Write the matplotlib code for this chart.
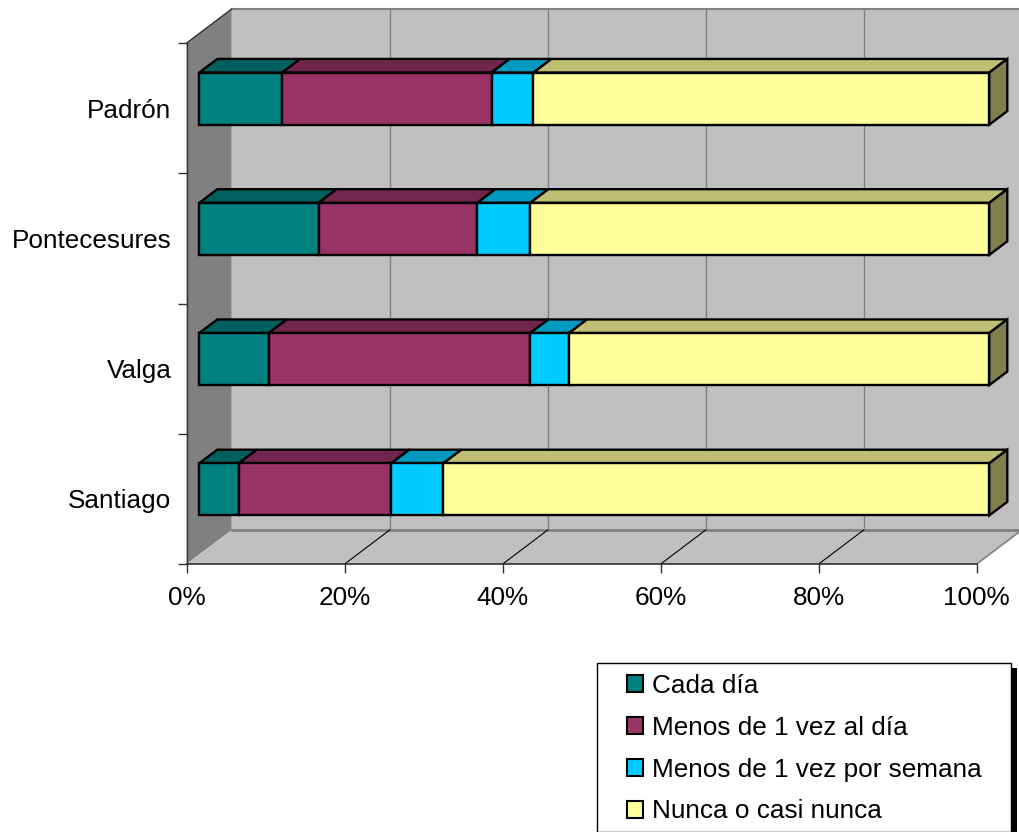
import numpy as np
import matplotlib.pyplot as plt
from matplotlib.patches import Polygon, Rectangle, Patch

plt.rcParams['font.family'] = ['Liberation Sans', 'DejaVu Sans']

# categories from bottom to top
categories = ['Santiago', 'Valga', 'Pontecesures', 'Padrón']
series = ['Cada día', 'Menos de 1 vez al día',
          'Menos de 1 vez por semana', 'Nunca o casi nunca']
# percentages per series, same order as categories
cada_dia = [5.0, 8.8, 15.1, 10.5]
menos_dia = [19.3, 33.1, 20.1, 26.5]
menos_semana = [6.6, 4.9, 6.7, 5.3]
nunca = [69.1, 53.2, 58.1, 57.7]
xticks = [0, 20, 40, 60, 80, 100]
xticklabels = ['0%', '20%', '40%', '60%', '80%', '100%']

colors = ['#008080', '#993366', '#00CCFF', '#FFFF99']

def shade(c, f):
    r, g, b = [int(c[i:i + 2], 16) for i in (1, 3, 5)]
    return (r * f / 255, g * f / 255, b * f / 255)

W, H = 1020, 832
fig = plt.figure(figsize=(W / 100, H / 100), dpi=100)
# axes = front plane of the 3D box
ax = fig.add_axes([186.7 / W, (H - 564) / H, 790 / W, 521 / H])
ax.set_xlim(0, 100)
ax.set_ylim(-0.5, 3.5)

# depth of the box in data units
Dx = 45 / 7.9
Dy = 34 / 130.25
f0, f1 = 0.28, 0.68
hh = 0.2

# walls and floor
back = Polygon([(Dx, -0.5 + Dy), (100 + Dx, -0.5 + Dy), (100 + Dx, 3.5 + Dy), (Dx, 3.5 + Dy)],
               closed=True, fc='#C0C0C0', ec='none', clip_on=False, zorder=0)
left = Polygon([(0, -0.5), (Dx, -0.5 + Dy), (Dx, 3.5 + Dy), (0, 3.5)],
               closed=True, fc='#808080', ec='none', clip_on=False, zorder=0)
floor = Polygon([(0, -0.5), (100, -0.5), (100 + Dx, -0.5 + Dy), (Dx, -0.5 + Dy)],
                closed=True, fc='#C0C0C0', ec='none', clip_on=False, zorder=0)
for p in (back, left, floor):
    ax.add_patch(p)

# wall edges
ax.plot([Dx, 100 + Dx], [3.5 + Dy, 3.5 + Dy], color='#808080', lw=1.5, clip_on=False, zorder=1)
ax.plot([0, Dx], [3.5, 3.5 + Dy], color='#303030', lw=1, clip_on=False, zorder=1)
ax.plot([Dx, 100 + Dx], [-0.5 + Dy, -0.5 + Dy], color='#808080', lw=2, clip_on=False, zorder=1)
ax.plot([100, 100 + Dx], [-0.5, -0.5 + Dy], color='#808080', lw=1.2, clip_on=False, zorder=1)

# gridlines on back wall and floor
for g in xticks[1:-1]:
    ax.plot([g + Dx, g + Dx], [-0.5 + Dy, 3.5 + Dy], color='#808080', lw=1, clip_on=False, zorder=1)
    ax.plot([g, g + Dx], [-0.5, -0.5 + Dy], color='black', lw=0.8, clip_on=False, zorder=1)

# 3D stacked bars
data = np.array([cada_dia, menos_dia, menos_semana, nunca])
for j, y in enumerate(range(len(categories))):
    left_edge = 0
    for i in range(len(series)):
        v = data[i, j]
        L, R = left_edge, left_edge + v
        x0, x1 = L + f0 * Dx, R + f0 * Dx
        yb, yt = y - hh + f0 * Dy, y + hh + f0 * Dy
        ddx, ddy = (f1 - f0) * Dx, (f1 - f0) * Dy
        front = Polygon([(x0, yb), (x1, yb), (x1, yt), (x0, yt)], closed=True,
                        fc=colors[i], ec='black', lw=1.7, zorder=3, clip_on=False, joinstyle='miter')
        top = Polygon([(x0, yt), (x1, yt), (x1 + ddx, yt + ddy), (x0 + ddx, yt + ddy)], closed=True,
                      fc=shade(colors[i], 0.75), ec='black', lw=1.7, zorder=3, clip_on=False, joinstyle='miter')
        ax.add_patch(top)
        ax.add_patch(front)
        if i == len(series) - 1:
            side = Polygon([(x1, yb), (x1 + ddx, yb + ddy), (x1 + ddx, yt + ddy), (x1, yt)], closed=True,
                           fc=shade(colors[i], 0.5), ec='black', lw=1.7, zorder=3, clip_on=False,
                           joinstyle='miter')
            ax.add_patch(side)
        left_edge = R

# axes / ticks
for s in ('top', 'right'):
    ax.spines[s].set_visible(False)
ax.spines['left'].set_color('#303030')
ax.spines['bottom'].set_color('#303030')
ax.spines['left'].set_linewidth(1)
ax.spines['bottom'].set_linewidth(1.2)
ax.set_facecolor('none')
ax.set_xticks(xticks)
ax.set_xticklabels(xticklabels)
ax.set_yticks(range(len(categories)))
ax.set_yticklabels(categories)
ax.set_yticks(np.arange(-0.5, 3.6, 1), minor=True)
ax.tick_params(axis='x', length=6.5, width=1, color='#303030', labelsize=18.8, pad=9)
ax.tick_params(axis='y', which='major', length=0, labelsize=18.8, pad=11)
ax.tick_params(axis='y', which='minor', length=6.5, width=1, color='#303030')

# legend with box and shadow
fig.add_artist(Rectangle((1011 / W, 0), 6 / W, (832 - 668) / H, transform=fig.transFigure,
                         fc='black', ec='none', zorder=5))
fig.add_artist(Rectangle((597 / W, 0.5 / H), 414 / W, (832 - 663.5) / H, transform=fig.transFigure,
                         fc='white', ec='black', lw=1, zorder=6))
handles = [Patch(fc=c, ec='black', lw=1.5) for c in colors]
leg = fig.legend(handles, series, loc='upper left', bbox_to_anchor=(627 / W, (H - 674) / H),
                 frameon=False, fontsize=18.8, borderpad=0, borderaxespad=0,
                 handlelength=0.62, handleheight=0.62, handletextpad=0.35, labelspacing=0.68)
leg.set_zorder(7)

fig.savefig('out.png', dpi=100)
